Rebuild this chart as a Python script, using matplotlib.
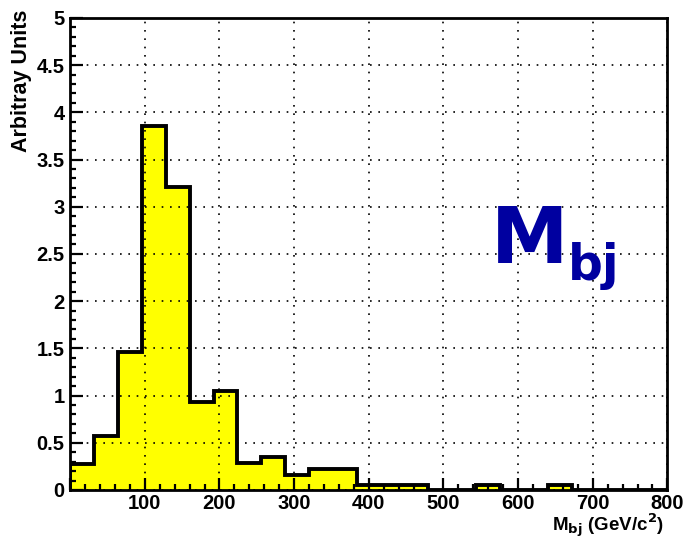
import matplotlib
matplotlib.use("Agg")
import matplotlib.pyplot as plt
from matplotlib.ticker import MultipleLocator, FuncFormatter
import numpy as np

# M_bj distribution, 25 bins of 32 GeV/c^2 from 0 to 800
bin_edges = np.arange(0, 800 + 32, 32)
bin_heights = [0.28, 0.57, 1.46, 3.85, 3.21, 0.93, 1.05, 0.29, 0.35, 0.16,
               0.22, 0.22, 0.05, 0.05, 0.05, 0.0, 0.0, 0.05, 0.0, 0.0,
               0.05, 0.0, 0.0, 0.0, 0.0]

x_ticks = [0, 100, 200, 300, 400, 500, 600, 700, 800]
y_ticks = [0, 0.5, 1, 1.5, 2, 2.5, 3, 3.5, 4, 4.5, 5]

plt.rcParams['font.family'] = ['Liberation Sans', 'DejaVu Sans']

fig = plt.figure(figsize=(6.88, 5.42), dpi=100)
ax = fig.add_axes([0.102, 0.096, 0.868, 0.871])

ax.stairs(bin_heights, bin_edges, fill=True, color='#FFFF00', zorder=2)
ax.stairs(bin_heights, bin_edges, baseline=0, color='black', linewidth=2.8,
          zorder=3)

ax.set_xlim(0, 800)
ax.set_ylim(0, 5)
ax.set_xticks(x_ticks)
ax.set_yticks(y_ticks)
ax.xaxis.set_minor_locator(MultipleLocator(20))
ax.yaxis.set_minor_locator(MultipleLocator(0.1))
ax.xaxis.set_major_formatter(FuncFormatter(lambda v, p: '' if v == 0 else f'{v:g}'))
ax.yaxis.set_major_formatter(FuncFormatter(lambda v, p: f'{v:g}'))

ax.tick_params(which='both', direction='in', top=False, right=False,
               width=1.6, labelsize=14.5, colors='black')
ax.tick_params(which='major', length=9)
ax.tick_params(axis='x', which='major', pad=3)
ax.tick_params(axis='y', which='major', pad=4)
ax.tick_params(which='minor', length=4.5)
for lbl in ax.get_xticklabels() + ax.get_yticklabels():
    lbl.set_fontweight('bold')

ax.grid(True, which='major', color='black', linestyle=(0, (1, 4)),
        linewidth=1.2, zorder=1)
ax.set_axisbelow(False)
for sp in ax.spines.values():
    sp.set_linewidth(2)
    sp.set_zorder(4)

fig.text(0.031, 0.982, 'Arbitray Units', rotation=90, ha='center', va='top',
         fontsize=15.5, fontweight='bold')
fig.text(0.965, 0.019, r'M$_{\mathbf{bj}}$ (GeV/c$^{\mathbf{2}}$)', ha='right',
         va='baseline', fontsize=13.5, fontweight='bold')

ax.text(0.705, 0.481, 'M', transform=ax.transAxes, fontsize=56,
        fontweight='bold', color='#0000A0', ha='left', va='baseline',
        family='DejaVu Sans')
ax.text(0.833, 0.445, 'bj', transform=ax.transAxes, fontsize=35,
        fontweight='bold', color='#0000A0', ha='left', va='baseline',
        family='DejaVu Sans')

fig.savefig('out.png', dpi=100)
